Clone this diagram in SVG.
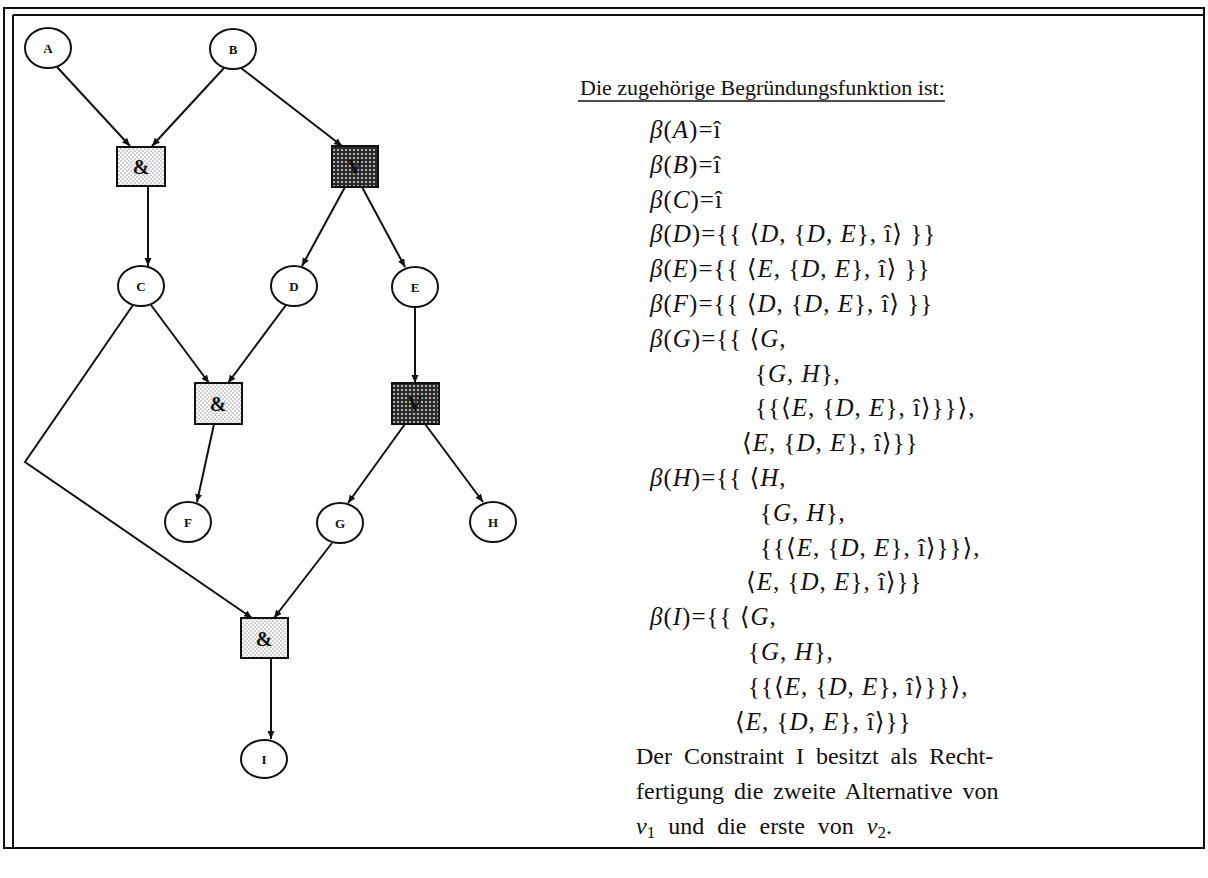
<svg xmlns="http://www.w3.org/2000/svg" width="1208" height="878" viewBox="0 0 1208 878">
<style>
.frame{fill:none;stroke:#111;stroke-width:2}
.node{fill:#fff;stroke:#111;stroke-width:2}
.box{stroke:#111;stroke-width:2}
.lbl{font-family:"Liberation Serif",serif;font-weight:bold;font-size:13px;fill:#111;text-anchor:middle}
.op{font-family:"Liberation Serif",serif;font-weight:bold;font-size:20px;fill:#111;text-anchor:middle}
.edge{fill:none;stroke:#111;stroke-width:2;marker-end:url(#ah)}
.t{font-family:"Liberation Serif","DejaVu Serif",serif;font-size:24px;fill:#111}
.h{font-family:"Liberation Serif","DejaVu Serif",serif;font-size:22px;fill:#111}
.m{font-family:"Liberation Serif","DejaVu Serif",serif;font-size:25px;fill:#111;letter-spacing:1px}
.it{font-style:italic}
</style>
<defs>
<marker id="ah" markerUnits="userSpaceOnUse" markerWidth="9" markerHeight="8" refX="8" refY="3.5" orient="auto">
<path d="M0,0 L8,3.5 L0,7 z" fill="#111"/>
</marker>
<pattern id="light" width="4" height="4" patternUnits="userSpaceOnUse">
<rect width="4" height="4" fill="#fafafa"/>
<circle cx="1" cy="1" r="0.6" fill="#444"/>
<circle cx="3" cy="3" r="0.6" fill="#444"/>
</pattern>
<pattern id="dark" width="4" height="4" patternUnits="userSpaceOnUse">
<rect width="4" height="4" fill="#2a2a2a"/>
<circle cx="2" cy="2" r="1.1" fill="#cfcfcf"/>
</pattern>
</defs>

<g id="frame">
<rect class="frame" x="4" y="8" width="1200" height="840"/>
<line class="frame" x1="13" y1="15" x2="1204" y2="15"/>
<line class="frame" x1="13" y1="15" x2="13" y2="848"/>
</g>

<g id="connectors">
<path class="edge" d="M57,67 L130,146"/>
<path class="edge" d="M224,68 L152,146"/>
<path class="edge" d="M241,68 L342,146"/>
<path class="edge" d="M148,186 L148,266"/>
<path class="edge" d="M345,187 L302,266"/>
<path class="edge" d="M362,187 L405,267"/>
<path class="edge" d="M151,305 L209,383"/>
<path class="edge" d="M286,305 L228,383"/>
<path class="edge" d="M133,305 L25,462 L252,618"/>
<path class="edge" d="M415,307 L415,383"/>
<path class="edge" d="M214,424 L197,502"/>
<path class="edge" d="M405,424 L348,503"/>
<path class="edge" d="M425,424 L483,502"/>
<path class="edge" d="M332,543 L274,618"/>
<path class="edge" d="M271,658 L271,739"/>
</g>

<g id="node-A"><ellipse class="node" cx="48" cy="48" rx="23" ry="20"/><text class="lbl" x="48" y="53">A</text></g>
<g id="node-B"><ellipse class="node" cx="233" cy="49" rx="23" ry="20"/><text class="lbl" x="233" y="54">B</text></g>
<g id="node-and1"><rect class="box" x="117" y="147" width="48" height="39" fill="url(#light)"/><text class="op" x="141" y="174">&amp;</text></g>
<g id="node-or1"><rect class="box" x="332" y="146" width="46" height="41" fill="url(#dark)"/><text class="op" x="355" y="174">V</text></g>
<g id="node-C"><ellipse class="node" cx="141" cy="286" rx="23" ry="20"/><text class="lbl" x="141" y="291">C</text></g>
<g id="node-D"><ellipse class="node" cx="294" cy="286" rx="23" ry="20"/><text class="lbl" x="294" y="291">D</text></g>
<g id="node-E"><ellipse class="node" cx="415" cy="287" rx="23" ry="20"/><text class="lbl" x="415" y="292">E</text></g>
<g id="node-and2"><rect class="box" x="195" y="383" width="47" height="41" fill="url(#light)"/><text class="op" x="218" y="411">&amp;</text></g>
<g id="node-or2"><rect class="box" x="392" y="383" width="47" height="41" fill="url(#dark)"/><text class="op" x="415" y="411">V</text></g>
<g id="node-F"><ellipse class="node" cx="188" cy="522" rx="23" ry="20"/><text class="lbl" x="188" y="527">F</text></g>
<g id="node-G"><ellipse class="node" cx="340" cy="523" rx="23" ry="20"/><text class="lbl" x="340" y="528">G</text></g>
<g id="node-H"><ellipse class="node" cx="493" cy="522" rx="23" ry="20"/><text class="lbl" x="493" y="527">H</text></g>
<g id="node-and3"><rect class="box" x="241" y="618" width="47" height="40" fill="url(#light)"/><text class="op" x="264" y="646">&amp;</text></g>
<g id="node-I"><ellipse class="node" cx="264" cy="759" rx="23" ry="19"/><text class="lbl" x="264" y="764">I</text></g>

<g id="text">
<text class="h" x="580" y="95">Die zugehörige Begründungsfunktion ist:</text>
<line x1="578" y1="101" x2="945" y2="101" stroke="#111" stroke-width="1.5"/>
<text class="m" x="650" y="138"><tspan class="it">β</tspan>(<tspan class="it">A</tspan>)=î</text>
<text class="m" x="650" y="173"><tspan class="it">β</tspan>(<tspan class="it">B</tspan>)=î</text>
<text class="m" x="650" y="208"><tspan class="it">β</tspan>(<tspan class="it">C</tspan>)=î</text>
<text class="m" x="650" y="242"><tspan class="it">β</tspan>(<tspan class="it">D</tspan>)={{ ⟨<tspan class="it">D</tspan>, {<tspan class="it">D</tspan>, <tspan class="it">E</tspan>}, î⟩ }}</text>
<text class="m" x="650" y="277"><tspan class="it">β</tspan>(<tspan class="it">E</tspan>)={{ ⟨<tspan class="it">E</tspan>, {<tspan class="it">D</tspan>, <tspan class="it">E</tspan>}, î⟩ }}</text>
<text class="m" x="650" y="312"><tspan class="it">β</tspan>(<tspan class="it">F</tspan>)={{ ⟨<tspan class="it">D</tspan>, {<tspan class="it">D</tspan>, <tspan class="it">E</tspan>}, î⟩ }}</text>
<text class="m" x="650" y="347"><tspan class="it">β</tspan>(<tspan class="it">G</tspan>)={{ ⟨<tspan class="it">G</tspan>,</text>
<text class="m" x="755" y="382">{<tspan class="it">G</tspan>, <tspan class="it">H</tspan>},</text>
<text class="m" x="755" y="416">{{⟨<tspan class="it">E</tspan>, {<tspan class="it">D</tspan>, <tspan class="it">E</tspan>}, î⟩}}⟩,</text>
<text class="m" x="742" y="451">⟨<tspan class="it">E</tspan>, {<tspan class="it">D</tspan>, <tspan class="it">E</tspan>}, î⟩}}</text>
<text class="m" x="650" y="486"><tspan class="it">β</tspan>(<tspan class="it">H</tspan>)={{ ⟨<tspan class="it">H</tspan>,</text>
<text class="m" x="760" y="521">{<tspan class="it">G</tspan>, <tspan class="it">H</tspan>},</text>
<text class="m" x="760" y="556">{{⟨<tspan class="it">E</tspan>, {<tspan class="it">D</tspan>, <tspan class="it">E</tspan>}, î⟩}}⟩,</text>
<text class="m" x="746" y="590">⟨<tspan class="it">E</tspan>, {<tspan class="it">D</tspan>, <tspan class="it">E</tspan>}, î⟩}}</text>
<text class="m" x="650" y="625"><tspan class="it">β</tspan>(<tspan class="it">I</tspan>)={{ ⟨<tspan class="it">G</tspan>,</text>
<text class="m" x="748" y="660">{<tspan class="it">G</tspan>, <tspan class="it">H</tspan>},</text>
<text class="m" x="748" y="695">{{⟨<tspan class="it">E</tspan>, {<tspan class="it">D</tspan>, <tspan class="it">E</tspan>}, î⟩}}⟩,</text>
<text class="m" x="735" y="730">⟨<tspan class="it">E</tspan>, {<tspan class="it">D</tspan>, <tspan class="it">E</tspan>}, î⟩}}</text>
<text class="t" x="636" y="764" word-spacing="6">Der Constraint I besitzt als Recht-</text>
<text class="t" x="636" y="799" word-spacing="4">fertigung die zweite Alternative von</text>
<text class="t" x="636" y="834" word-spacing="7"><tspan class="it">v</tspan><tspan font-size="17" dy="4">1</tspan><tspan dy="-4"> und die erste von </tspan><tspan class="it">v</tspan><tspan font-size="17" dy="4">2</tspan><tspan dy="-4">.</tspan></text>
</g>
</svg>
